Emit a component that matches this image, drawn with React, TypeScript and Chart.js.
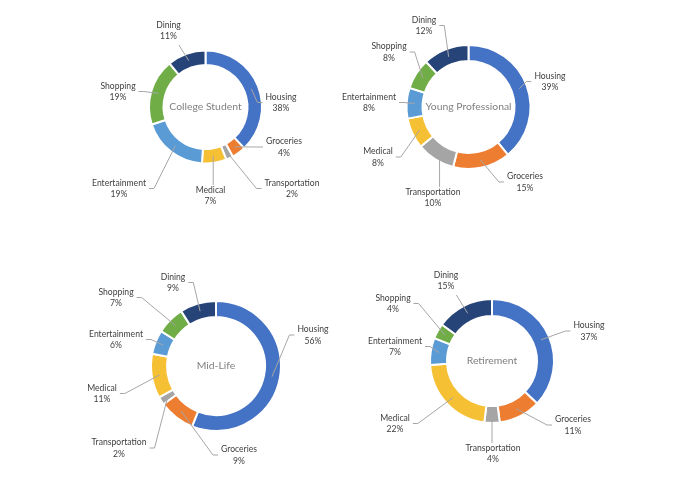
import { useEffect, useRef } from "react";
import { Chart, registerables } from "chart.js";

Chart.register(...registerables);

// Spending categories, in drawing order (clockwise from 12 o'clock)
const categories = [
  "Housing",
  "Groceries",
  "Transportation",
  "Medical",
  "Entertainment",
  "Shopping",
  "Dining",
];

// Share of spending (%) for each life stage
const collegeStudent = [38, 4, 2, 7, 19, 19, 11];
const youngProfessional = [39, 15, 10, 8, 8, 8, 12];
const midLife = [56, 9, 2, 11, 6, 7, 9];
const retirement = [37, 11, 4, 22, 7, 4, 15];

const stageTitles = ["College Student", "Young Professional", "Mid-Life", "Retirement"];

const sliceColors = ["#4472C4", "#ED7D31", "#A5A5A5", "#F6C035", "#5B9BD5", "#70AD47", "#264478"];

const FONT = "Lato, 'Open Sans', sans-serif";
const LABEL_COLOR = "#404040";
const TITLE_COLOR = "#808080";
const LEADER_COLOR = "#A6A6A6";

const PAGE_W = 695;
const PAGE_H = 494;

type Panel = {
  title: string;
  values: number[];
  center: [number, number];
  radius: number;
  ring: number;
  // label block centre, relative to the doughnut centre
  labelOffsets: [number, number][];
};

const panels: Panel[] = [
  {
    title: stageTitles[0],
    values: collegeStudent,
    center: [205.5, 107],
    radius: 55.5,
    ring: 12.5,
    labelOffsets: [
      [75.5, -4.5],
      [78.5, 40],
      [86.5, 81.5],
      [5, 88.5],
      [-86.5, 81.5],
      [-87.5, -15.5],
      [-37, -76.5],
    ],
  },
  {
    title: stageTitles[1],
    values: youngProfessional,
    center: [468.5, 107],
    radius: 61,
    ring: 14,
    labelOffsets: [
      [81.5, -25.5],
      [56.5, 75],
      [-35.5, 90.5],
      [-90.5, 50],
      [-99.5, -4.5],
      [-79.5, -55],
      [-44.5, -81.5],
    ],
  },
  {
    title: stageTitles[2],
    values: midLife,
    center: [216, 366],
    radius: 64,
    ring: 14,
    labelOffsets: [
      [97, -31],
      [23, 89],
      [-97, 82],
      [-114, 27.5],
      [-100, -26.5],
      [-100, -68.5],
      [-43, -83.5],
    ],
  },
  {
    title: stageTitles[3],
    values: retirement,
    center: [492, 361],
    radius: 61,
    ring: 15,
    labelOffsets: [
      [97, -30],
      [81, 64],
      [1, 92.5],
      [-97, 62.5],
      [-97, -14.5],
      [-99, -57.5],
      [-46, -80.5],
    ],
  },
];

const TITLE_SIZE = 10.4;
const LABEL_SIZE = 8.6;
const LINE_H = 11.5;

function makeLabelPlugin(panel: Panel) {
  return {
    id: "sliceLabels",
    afterDatasetsDraw(chart: Chart) {
      const ctx = chart.ctx;
      const meta = chart.getDatasetMeta(0);
      ctx.save();

      // title in the hole
      const first: any = meta.data[0];
      const cx = first.x;
      const cy = first.y;
      ctx.fillStyle = TITLE_COLOR;
      ctx.font = `${TITLE_SIZE}px ${FONT}`;
      ctx.textAlign = "center";
      ctx.textBaseline = "middle";
      ctx.fillText(panel.title, cx, cy);

      ctx.font = `${LABEL_SIZE}px ${FONT}`;
      meta.data.forEach((el: any, i: number) => {
        const p = el.getProps(["x", "y", "startAngle", "endAngle", "innerRadius", "outerRadius"], true);
        const mid = (p.startAngle + p.endAngle) / 2;
        const rMid = (p.innerRadius + p.outerRadius) / 2;
        const sx = p.x + Math.cos(mid) * rMid;
        const sy = p.y + Math.sin(mid) * rMid;

        const name = categories[i];
        const pct = `${panel.values[i]}%`;
        const [ox, oy] = panel.labelOffsets[i];
        const lx = p.x + ox;
        const ly = p.y + oy;
        const w = Math.max(ctx.measureText(name).width, ctx.measureText(pct).width);
        const left = lx - w / 2;
        const right = lx + w / 2;
        const top = ly - LINE_H;
        const bottom = ly + LINE_H;

        // leader line from the slice to the label
        const dxOut = sx < left ? left - sx : sx > right ? sx - right : 0;
        ctx.strokeStyle = LEADER_COLOR;
        ctx.lineWidth = 1;
        ctx.beginPath();
        ctx.moveTo(sx, sy);
        if (dxOut >= 12) {
          const side = sx < left ? -1 : 1;
          const ex = side < 0 ? left - 3 : right + 3;
          ctx.lineTo(ex + side * 5, ly);
          ctx.lineTo(ex, ly);
        } else {
          const ex = Math.min(Math.max(sx, left + 2), right - 2);
          const ey = sy > ly ? bottom + 3 : top + 1;
          ctx.lineTo(ex, ey);
        }
        ctx.stroke();

        ctx.fillStyle = LABEL_COLOR;
        ctx.textAlign = "center";
        ctx.textBaseline = "middle";
        ctx.fillText(name, lx, ly - LINE_H / 2);
        ctx.fillText(pct, lx, ly + LINE_H / 2);
      });
      ctx.restore();
    },
  };
}

function Donut({ panel }: { panel: Panel }) {
  const ref = useRef<HTMLCanvasElement | null>(null);

  useEffect(() => {
    const canvas = ref.current;
    if (!canvas) return;
    const [cx, cy] = panel.center;
    const s = Math.min(cx, PAGE_W - cx, cy, PAGE_H - cy) - 1;
    // white slice borders eat half their width on each edge
    const outer = panel.radius + 1;
    const inner = panel.radius - panel.ring - 1;

    const chart = new Chart(canvas, {
      type: "doughnut",
      data: {
        labels: categories,
        datasets: [
          {
            data: panel.values,
            backgroundColor: sliceColors,
            borderColor: "#FFFFFF",
            borderWidth: 2,
          },
        ],
      },
      options: {
        animation: false,
        responsive: false,
        devicePixelRatio: 1,
        radius: outer,
        cutout: `${(inner / outer) * 100}%`,
        layout: {
          padding: {
            left: cx - s,
            right: PAGE_W - cx - s,
            top: cy - s,
            bottom: PAGE_H - cy - s,
          },
        },
        plugins: {
          legend: { display: false },
          tooltip: { enabled: false },
        },
      } as any,
      plugins: [makeLabelPlugin(panel)],
    });
    return () => chart.destroy();
  }, [panel]);

  return (
    <canvas
      ref={ref}
      width={PAGE_W}
      height={PAGE_H}
      style={{
        position: "absolute",
        left: 0,
        top: 0,
        width: PAGE_W,
        height: PAGE_H,
      }}
    />
  );
}

export default function App() {
  return (
    <div
      style={{
        position: "absolute",
        left: 0,
        top: 0,
        width: PAGE_W,
        height: PAGE_H,
        background: "#FFFFFF",
        overflow: "hidden",
      }}
    >
      {panels.map((p) => (
        <Donut key={p.title} panel={p} />
      ))}
    </div>
  );
}
